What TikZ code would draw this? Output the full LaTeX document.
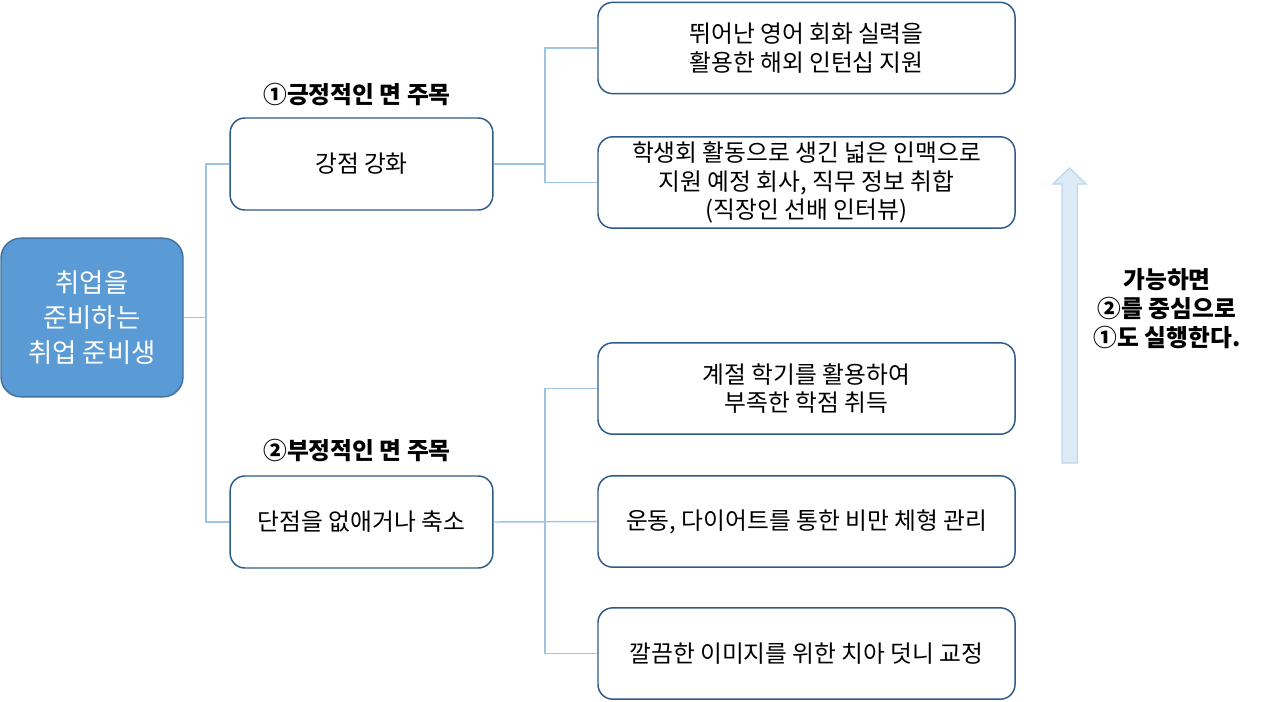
\documentclass[tikz,border=0pt]{standalone}
\usepackage{fontspec}
\setmainfont{Noto Sans CJK KR}
\definecolor{rootfill}{HTML}{5B9BD5}
\definecolor{rootline}{HTML}{41719C}
\definecolor{boxline}{HTML}{2E5C8A}
\definecolor{conn}{HTML}{9DC3E6}
\definecolor{arrfill}{HTML}{DDEBF7}
\definecolor{arrline}{HTML}{BDD7EE}
\tikzset{
  rootbox/.style={draw=rootline, fill=rootfill, line width=1.1pt, rounded corners=15pt,
    minimum width=136.5pt, minimum height=119pt, align=center, text=white,
    font=\fontsize{19.8pt}{26.25pt}\selectfont, inner sep=0pt},
  midbox/.style={draw=boxline, fill=white, line width=1.1pt, rounded corners=11pt,
    minimum width=197pt, minimum height=69pt, align=center,
    font=\fontsize{17.8pt}{21.3pt}\selectfont, inner sep=0pt},
  rightbox/.style={draw=boxline, fill=white, line width=1.1pt, rounded corners=11pt,
    minimum width=312.75pt, minimum height=68.5pt, align=center,
    font=\fontsize{17.8pt}{21.3pt}\selectfont, inner sep=0pt},
  lbl/.style={font=\bfseries\fontsize{17.8pt}{21.5pt}\selectfont, align=center, inner sep=0pt},
  connector/.style={draw=conn, line width=1.1pt}
}
\begin{document}
\begin{tikzpicture}[x=0.75pt,y=-0.75pt]
\useasboundingbox (0,0) rectangle (1280,701);
% nodes
\node[rootbox] (root) at (92,317.5) {취업을\\준비하는\\취업 준비생};
\node[midbox] (b1) at (361.5,164) {강점 강화};
\node[midbox] (b2) at (361.5,522) {단점을 없애거나 축소};
\node[lbl] (l1) at (357,94) {①긍정적인 면 주목};
\node[lbl] (l2) at (357,450) {②부정적인 면 주목};
\node[rightbox] (r1) at (806.5,48) {뛰어난 영어 회화 실력을\\활용한 해외 인턴십 지원};
\node[rightbox] (r2) at (806.5,182.5) {학생회 활동으로 생긴 넓은 인맥으로\\지원 예정 회사, 직무 정보 취합\\(직장인 선배 인터뷰)};
\node[rightbox] (r3) at (806.5,388.5) {계절 학기를 활용하여\\부족한 학점 취득};
\node[rightbox] (r4) at (806.5,521.5) {운동, 다이어트를 통한 비만 체형 관리};
\node[rightbox] (r5) at (806.5,653.5) {깔끔한 이미지를 위한 치아 덧니 교정};
\node[lbl] (note) at (1167,308.5) {가능하면\\②를 중심으로\\①도 실행한다.};
% connectors
\coordinate (t1) at (206,164);
\coordinate (t2) at (206,522);
\coordinate (j1) at (545,164);
\coordinate (j2) at (545,522);
\draw[connector] (b1.west) -- (t1) -- (t2) -- (b2.west);
\draw[connector] (root.east) -- (root.east -| t1);
\draw[connector] (b1.east) -- (j1);
\draw[connector] (r1.west) -| (j1) |- (r2.west);
\draw[connector] (b2.east) -- (r4.west);
\draw[connector] (r3.west) -| (j2) |- (r5.west);
% big arrow
\draw[draw=arrline, fill=arrfill, line width=1pt]
  (1062,463) -- (1062,184) -- (1053,184) -- (1069.5,168) -- (1086,184) -- (1077.5,184) -- (1077.5,463) -- cycle;
\end{tikzpicture}
\end{document}
